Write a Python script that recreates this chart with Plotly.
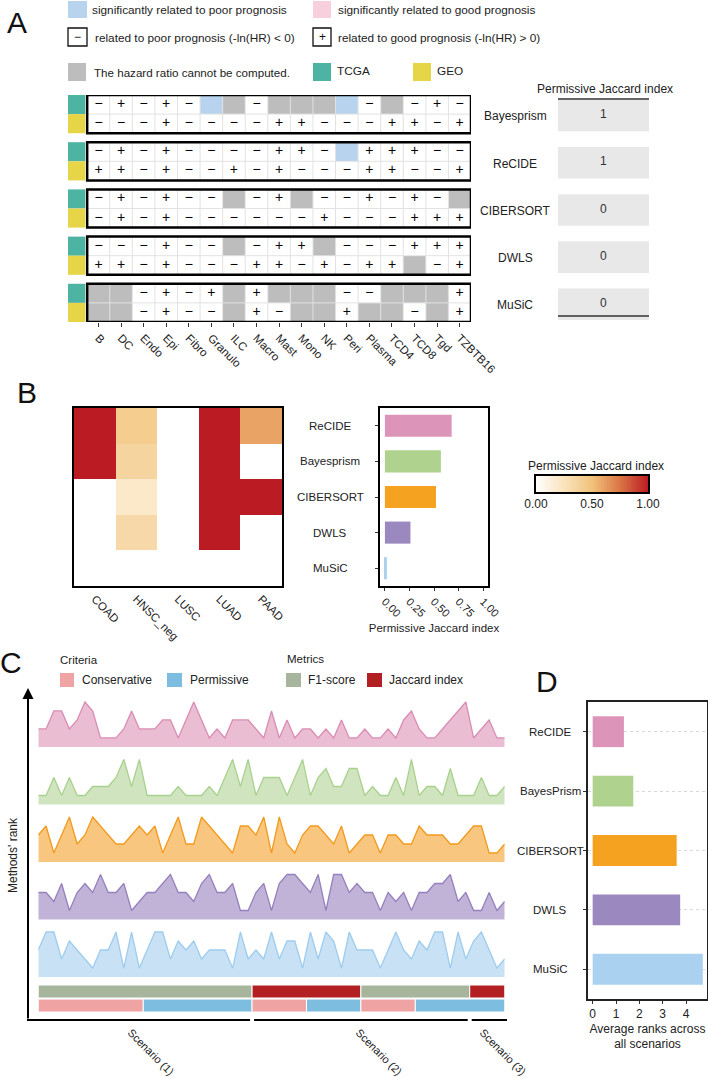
import plotly.graph_objects as go

W, H = 708, 1078
FONT = "Liberation Sans, Arial, Helvetica, sans-serif"

# ---------------- Panel A data ----------------
cell_types = ["B", "DC", "Endo", "Epi", "Fibro", "Granulo", "ILC", "Macro", "Mast",
              "Mono", "NK", "Peri", "Plasma", "TCD4", "TCD8", "Tgd", "TZBTB16"]
methods_A = ["Bayesprism", "ReCIDE", "CIBERSORT", "DWLS", "MuSiC"]
# '-' : -ln(HR) < 0, '+' : -ln(HR) > 0, 'SP' : sig. poor, 'SG' : sig. good, 'NA' : not computable
bayes_tcga = ["-", "+", "-", "+", "-", "SP", "NA", "-", "NA", "NA", "NA", "SP", "-", "NA", "-", "+", "-"]
bayes_geo = ["-", "-", "-", "+", "-", "-", "-", "-", "+", "+", "-", "-", "-", "+", "+", "-", "+"]
recide_tcga = ["-", "+", "-", "+", "-", "-", "-", "-", "+", "+", "-", "SP", "+", "+", "+", "-", "-"]
recide_geo = ["+", "+", "-", "+", "-", "-", "+", "-", "+", "-", "-", "-", "+", "+", "-", "-", "+"]
cibersort_tcga = ["-", "+", "-", "+", "-", "-", "NA", "-", "+", "NA", "-", "-", "+", "-", "+", "-", "NA"]
cibersort_geo = ["-", "+", "-", "+", "-", "-", "-", "-", "-", "-", "+", "-", "-", "-", "+", "+", "+"]
dwls_tcga = ["-", "-", "-", "+", "-", "-", "NA", "-", "+", "+", "NA", "-", "-", "-", "+", "+", "+"]
dwls_geo = ["+", "+", "-", "+", "-", "-", "-", "+", "+", "-", "+", "-", "+", "+", "NA", "-", "+"]
music_tcga = ["NA", "NA", "-", "+", "-", "+", "NA", "+", "NA", "NA", "NA", "-", "-", "NA", "NA", "NA", "+"]
music_geo = ["NA", "NA", "-", "+", "-", "-", "NA", "+", "-", "NA", "NA", "+", "NA", "NA", "-", "NA", "+"]
perm_jaccard_A = [1, 1, 0, 0, 0]

# ---------------- Panel B data ----------------
cancers = ["COAD", "HNSC_neg", "LUSC", "LUAD", "PAAD"]
methods_B = ["ReCIDE", "Bayesprism", "CIBERSORT", "DWLS", "MuSiC"]
jac_recide = [1.0, 0.42, 0.0, 1.0, 0.60]
jac_bayes = [1.0, 0.36, 0.0, 1.0, 0.0]
jac_cibersort = [0.0, 0.20, 0.0, 1.0, 1.0]
jac_dwls = [0.0, 0.33, 0.0, 1.0, 0.0]
jac_music = [0.0, 0.0, 0.0, 0.0, 0.0]
mean_jaccard_B = [0.68, 0.57, 0.52, 0.26, 0.02]
colorbar_ticks = [0.0, 0.5, 1.0]

# ---------------- Panel C data ----------------
rank_recide = [2, 2, 4, 4, 2, 3, 5, 4, 1, 1, 1, 2, 4, 2, 2, 2, 3, 3, 1, 3, 5, 3, 1, 2, 1, 3, 3, 3, 2, 1, 4,
               1, 3, 1, 2, 2, 1, 2, 1, 3, 1, 1, 2, 1, 1, 2, 1, 3, 4, 2, 1, 1, 2, 3, 4, 5, 1, 2, 3, 1, 1]
rank_bayes = [1, 1, 3, 1, 3, 1, 1, 2, 2, 2, 3, 5, 2, 5, 1, 1, 1, 1, 2, 1, 1, 1, 2, 1, 3, 5, 2, 5, 1, 3, 3,
              3, 1, 3, 5, 1, 3, 4, 2, 2, 4, 4, 1, 2, 1, 1, 3, 1, 5, 1, 2, 2, 1, 4, 1, 1, 1, 3, 1, 1, 2]
rank_cibersort = [3, 4, 1, 3, 5, 2, 3, 5, 4, 3, 2, 2, 3, 4, 3, 4, 1, 3, 5, 2, 2, 5, 4, 3, 2, 1, 4, 4, 3, 5, 1,
                  5, 2, 1, 3, 4, 4, 3, 2, 4, 1, 2, 3, 3, 1, 3, 3, 2, 2, 4, 3, 3, 3, 2, 2, 3, 4, 4, 1, 1, 2]
rank_dwls = [3, 3, 2, 4, 1, 3, 4, 3, 5, 3, 3, 4, 1, 2, 3, 3, 4, 5, 3, 3, 2, 4, 5, 3, 3, 4, 1, 1, 3, 4, 1,
             4, 5, 5, 4, 3, 5, 1, 5, 5, 3, 4, 3, 3, 1, 3, 2, 3, 1, 3, 3, 4, 4, 5, 2, 3, 1, 1, 3, 1, 2]
rank_music = [3, 5, 5, 2, 4, 3, 2, 1, 3, 3, 5, 1, 5, 1, 3, 5, 5, 2, 4, 3, 4, 2, 3, 3, 3, 1, 5, 2, 3, 2, 5,
              2, 4, 4, 1, 5, 2, 5, 4, 1, 5, 3, 3, 3, 1, 3, 5, 3, 2, 4, 3, 5, 5, 1, 5, 2, 4, 5, 3, 1, 2]
seg_scenario = ["Scenario (1)", "Scenario (1)", "Scenario (2)", "Scenario (2)", "Scenario (2)", "Scenario (2)", "Scenario (3)"]
seg_metric = ["F1-score", "F1-score", "Jaccard index", "Jaccard index", "F1-score", "F1-score", "Jaccard index"]
seg_criteria = ["Conservative", "Permissive", "Conservative", "Permissive", "Conservative", "Permissive", "Permissive"]
seg_count = [14, 14, 7, 7, 7, 7, 5]

# ---------------- Panel D data ----------------
methods_D = ["ReCIDE", "BayesPrism", "CIBERSORT", "DWLS", "MuSiC"]
avg_rank_D = [1.34, 1.74, 3.60, 3.75, 4.72]

# ---------------- styling ----------------
method_color = {"ReCIDE": "#DD94B9", "Bayesprism": "#AFD38F", "BayesPrism": "#AFD38F",
                "CIBERSORT": "#F4A21F", "DWLS": "#9B88BF", "MuSiC": "#AAD2F0"}
area_fill = ["#EABDD3", "#D0E5BF", "#F8C67E", "#C0B3D7", "#C8E1F4"]
area_line = ["#DA8CB4", "#A9D18E", "#F29A1F", "#9581BD", "#9ECCEE"]
metric_color = {"F1-score": "#A6B59B", "Jaccard index": "#B22024"}
criteria_color = {"Conservative": "#EFA3A3", "Permissive": "#7DBDE0"}
BLUE_A, PINK_A, GRAY_A = "#B8D3EE", "#F7CFDD", "#BDBDBD"
TEAL, YELLOW = "#4DB3A2", "#E6D547"
B_scale = [[0, "#FFFFFF"], [0.25, "#FAE3BD"], [0.5, "#F1C27A"], [0.75, "#DA7445"], [1, "#BB1B22"]]


def X(p):
    return p / W


def Y(p):
    return 1 - p / H


annotations = []
shapes = []


def ann(text, x, y, size=12, xanchor="center", yanchor="middle", angle=0, color="#1a1a1a", **kw):
    d = dict(text=text, x=x, y=y, xref=kw.pop("xref", "paper"), yref=kw.pop("yref", "paper"),
             showarrow=False, xanchor=xanchor, yanchor=yanchor, textangle=angle,
             font=dict(size=size, color=color, family=FONT))
    d.update(kw)
    annotations.append(d)


def prect(x0, y0, x1, y1, fill, line=None, lw=0):
    shapes.append(dict(type="rect", xref="paper", yref="paper", x0=X(x0), x1=X(x1), y0=Y(y1), y1=Y(y0),
                       fillcolor=fill, line=dict(color=line or fill, width=lw)))


def pline(x0, y0, x1, y1, color="black", width=2):
    shapes.append(dict(type="line", xref="paper", yref="paper", x0=X(x0), x1=X(x1), y0=Y(y0), y1=Y(y1),
                       line=dict(color=color, width=width)))


fig = go.Figure()

# ================= Panel A =================
P = 2.47
code_map = {"-": 0, "+": 0, "SP": 1, "SG": 2, "NA": 3}
sym_map = {"-": "\u2212", "+": "+"}
rows_A = [(bayes_tcga, bayes_geo), (recide_tcga, recide_geo), (cibersort_tcga, cibersort_geo),
          (dwls_tcga, dwls_geo), (music_tcga, music_geo)]
A_scale = [[0, "#FFFFFF"], [1 / 6, "#FFFFFF"], [1 / 6, BLUE_A], [0.5, BLUE_A],
           [0.5, PINK_A], [5 / 6, PINK_A], [5 / 6, GRAY_A], [1, GRAY_A]]
for b, (t, g) in enumerate(rows_A):
    fig.add_trace(go.Heatmap(z=[[code_map[v] for v in t], [code_map[v] for v in g]],
                             x=list(range(len(cell_types))), y=[b * P, b * P + 1],
                             zmin=0, zmax=3, colorscale=A_scale, showscale=False,
                             hoverinfo="skip", xaxis="x", yaxis="y"))
gx, gy = [], []
n = len(cell_types)
for b in range(len(rows_A)):
    for k in range(1, n):
        gx += [k - 0.5, k - 0.5, None]
        gy += [b * P - 0.5, b * P + 1.5, None]
    gx += [-0.5, n - 0.5, None]
    gy += [b * P + 0.5, b * P + 0.5, None]
fig.add_trace(go.Scatter(x=gx, y=gy, mode="lines", line=dict(color="#E2E2E2", width=1),
                         hoverinfo="skip", xaxis="x", yaxis="y"))
sx, sy, st = [], [], []
for b, (t, g) in enumerate(rows_A):
    for r, row in enumerate((t, g)):
        for i, v in enumerate(row):
            if v in sym_map:
                sx.append(i)
                sy.append(b * P + r)
                st.append(sym_map[v])
fig.add_trace(go.Scatter(x=sx, y=sy, text=st, mode="text", hoverinfo="skip",
                         textfont=dict(size=14, color="#000000", family=FONT), xaxis="x", yaxis="y"))
for b in range(len(rows_A)):
    shapes.append(dict(type="rect", xref="x", yref="y", x0=-0.5, x1=n - 0.5, y0=b * P - 0.5, y1=b * P + 1.5,
                       line=dict(color="black", width=2.5), fillcolor="rgba(0,0,0,0)"))
    for r, col in enumerate((TEAL, YELLOW)):
        shapes.append(dict(type="rect", xref="x", yref="y", x0=-1.35, x1=-0.58,
                           y0=b * P + r - 0.5, y1=b * P + r + 0.5, fillcolor=col, line=dict(width=0)))
    # right-side table
    shapes.append(dict(type="rect", xref="paper", yref="y", x0=X(558), x1=X(649),
                       y0=b * P - 0.25, y1=b * P + 1.4, fillcolor="#E8E8E8", line=dict(width=0)))
    ann(str(perm_jaccard_A[b]), X(603), b * P + 0.5, size=12, yref="y", color="#333")
    ann(methods_A[b], X(515), b * P + 0.62, size=12, yref="y", color="#222")
ann("Permissive Jaccard index", X(605), Y(89), size=12, color="#222")
pline(558, 99, 649, 99, "#333", 1.5)
pline(558, 316, 649, 316, "#333", 1.5)

# legend A
ann("A", X(17), Y(23), size=30, color="#111")
prect(68, 1, 87, 18, BLUE_A)
ann("significantly related to poor prognosis", X(90), Y(10), size=11.8, xanchor="left", color="#222")
prect(313, 1, 331, 18, PINK_A)
ann("significantly related to good prognosis", X(336), Y(10), size=11.8, xanchor="left", color="#222")
prect(68, 28, 87, 46, "#FFFFFF", "#111", 1.3)
ann("\u2212", X(77.5), Y(37), size=12, color="#111")
ann("related to poor prognosis (-ln(HR) < 0)", X(93), Y(38), size=11.8, xanchor="left", color="#222")
prect(313, 28, 331, 46, "#FFFFFF", "#111", 1.3)
ann("+", X(322), Y(37), size=12, color="#111")
ann("related to good prognosis (-ln(HR) > 0)", X(336), Y(38), size=11.8, xanchor="left", color="#222")
prect(68, 63, 86, 81, GRAY_A)
ann("The hazard ratio cannot be computed.", X(92), Y(72), size=11.6, xanchor="left", color="#222")
prect(313, 63, 331, 81, TEAL)
ann("TCGA", X(335), Y(71), size=11.8, xanchor="left", color="#222")
prect(413, 63, 431, 81, YELLOW)
ann("GEO", X(435), Y(71), size=11.8, xanchor="left", color="#222")

# ================= Panel B =================
fig.add_trace(go.Heatmap(z=[jac_recide, jac_bayes, jac_cibersort, jac_dwls, jac_music],
                         x=cancers, y=methods_B, zmin=0, zmax=1, colorscale=B_scale, showscale=False,
                         hoverinfo="skip", xaxis="x2", yaxis="y2"))
fig.add_trace(go.Bar(x=mean_jaccard_B, y=methods_B, orientation="h", width=0.62,
                     marker=dict(color=[method_color[m] for m in methods_B], line=dict(width=0)),
                     hoverinfo="skip", xaxis="x3", yaxis="y3"))
for m in methods_B:
    ann(m, X(330), m, size=11.5, yref="y3", color="#222")
ann("B", X(27), Y(392), size=30, color="#111")
# colour key drawn as a gradient strip on its own axis
ramp = [i / 199 for i in range(200)]
fig.add_trace(go.Heatmap(z=[ramp], x=ramp, y=[0], zmin=0, zmax=1, colorscale=B_scale, showscale=False,
                         hoverinfo="skip", xaxis="x6", yaxis="y6"))
ann("Permissive Jaccard index", X(596), Y(466), size=12, color="#222")

# ================= Panel C =================
ranks = [rank_recide, rank_bayes, rank_cibersort, rank_dwls, rank_music]
PITCH = 6.39
npts = len(rank_recide)
xs = list(range(npts))
for k, vals in enumerate(ranks):
    off = (len(ranks) - 1 - k) * PITCH
    fig.add_trace(go.Scatter(x=xs, y=[off] * npts, mode="lines", line=dict(width=0, color=area_fill[k]),
                             hoverinfo="skip", xaxis="x4", yaxis="y4"))
    fig.add_trace(go.Scatter(x=xs, y=[off + v for v in vals], mode="lines", fill="tonexty",
                             fillcolor=area_fill[k], line=dict(color=area_line[k], width=1.3),
                             hoverinfo="skip", xaxis="x4", yaxis="y4"))

point_metric, point_criteria, point_scenario = [], [], []
for s, m, c, cnt in zip(seg_scenario, seg_metric, seg_criteria, seg_count):
    point_metric += [m] * cnt
    point_criteria += [c] * cnt
    point_scenario += [s] * cnt


def runs(labels):
    out = []
    start = 0
    for i in range(1, len(labels) + 1):
        if i == len(labels) or labels[i] != labels[start]:
            out.append((labels[start], start, i - 1))
            start = i
    return out


for row_y, labels, cmap in ((-1.61, point_metric, metric_color), (-3.17, point_criteria, criteria_color)):
    rr = runs(labels)
    bases, lens, cols = [], [], []
    for lab, s, e in rr:
        x0 = max(0, s - 0.5)
        x1 = min(npts - 1, e + 0.5)
        bases.append(x0)
        lens.append(x1 - x0)
        cols.append(cmap[lab])
    fig.add_trace(go.Bar(x=lens, base=bases, y=[row_y] * len(lens), orientation="h", width=1.44,
                         marker=dict(color=cols, line=dict(color="white", width=1)),
                         hoverinfo="skip", xaxis="x4", yaxis="y4"))

# axis arrow / scenario lines
x_px = lambda v: 38.3 + v * (504.7 - 38.3) / (npts - 1)
annotations.append(dict(x=X(28), y=Y(688), xref="paper", yref="paper", ax=0, ay=332, axref="pixel",
                        ayref="pixel", text="", showarrow=True, arrowhead=2, arrowsize=1.1,
                        arrowwidth=2, arrowcolor="black"))
scen_runs = runs(point_scenario)
label_px = [151, 379, 503]
for j, (lab, s, e) in enumerate(scen_runs):
    left = 27 if j == 0 else x_px(s - 0.5) + 2
    right = x_px(e + 0.5) - 2 if j < len(scen_runs) - 1 else 507
    pline(left, 1020, right, 1020, "black", 2.2)
    ann(lab, X(label_px[j]), Y(1052), size=11, angle=45, color="#222")
ann("Methods' rank", X(13), Y(855), size=12, angle=-90, color="#222")
ann("C", X(11), Y(662), size=30, color="#111")
ann("Criteria", X(58), Y(660), size=11.5, xanchor="left", color="#222")
prect(60, 673, 74, 687, criteria_color["Conservative"])
ann("Conservative", X(80), Y(680), size=12, xanchor="left", color="#222")
prect(167, 673, 182, 687, criteria_color["Permissive"])
ann("Permissive", X(188), Y(680), size=12, xanchor="left", color="#222")
ann("Metrics", X(285), Y(659), size=11.5, xanchor="left", color="#222")
prect(286, 673, 301, 687, metric_color["F1-score"])
ann("F1-score", X(306), Y(680), size=12, xanchor="left", color="#222")
prect(367, 673, 382, 687, metric_color["Jaccard index"])
ann("Jaccard index", X(387), Y(680), size=12, xanchor="left", color="#222")

# ================= Panel D =================
fig.add_trace(go.Bar(x=avg_rank_D, y=methods_D, orientation="h", width=0.52,
                     marker=dict(color=[method_color[m] for m in methods_D], line=dict(width=0)),
                     hoverinfo="skip", xaxis="x5", yaxis="y5"))
for m in methods_D:
    ann(m, X(550), m, size=11.5, yref="y5", color="#222")
ann("D", X(547), Y(681), size=30, color="#111")

axis_font = dict(size=11.5, family=FONT, color="#222")
fig.update_layout(
    width=W, height=H, margin=dict(l=0, r=0, t=0, b=0, autoexpand=False),
    paper_bgcolor="white", plot_bgcolor="rgba(0,0,0,0)", showlegend=False, barmode="overlay",
    font=dict(family=FONT, size=12, color="#222"),
    xaxis=dict(domain=[X(68), X(471)], range=[-1.35, n - 0.5], anchor="y", tickvals=list(range(n)),
               ticktext=cell_types, tickangle=45, ticks="outside", ticklen=4, tickcolor="#333",
               showgrid=False, zeroline=False, showline=False, tickfont=dict(size=11.5, family=FONT, color="#222")),
    yaxis=dict(domain=[Y(322), Y(95)], range=[4 * P + 1.5, -0.5], visible=False, anchor="x"),
    xaxis2=dict(domain=[X(74), X(282)], anchor="y2", tickangle=45, ticks="", showline=True, mirror=True,
                linecolor="black", linewidth=2, showgrid=False, zeroline=False,
                tickfont=dict(size=11.5, family=FONT, color="#222")),
    yaxis2=dict(domain=[Y(586), Y(408)], anchor="x2", autorange="reversed", showticklabels=False,
                ticks="", showline=True, mirror=True, linecolor="black", linewidth=2, showgrid=False),
    xaxis3=dict(domain=[X(380), X(488)], anchor="y3", range=[-0.05, 1.05],
                tickvals=[0, 0.25, 0.5, 0.75, 1], ticktext=["0.00", "0.25", "0.50", "0.75", "1.00"],
                tickangle=45, ticks="outside", ticklen=3, tickcolor="#333", showline=True, mirror=True,
                linecolor="black", linewidth=2, showgrid=False, zeroline=False,
                tickfont=dict(size=11, family=FONT, color="#222"),
                title=dict(text="Permissive Jaccard index", font=axis_font, standoff=6)),
    yaxis3=dict(domain=[Y(586), Y(408)], anchor="x3", autorange="reversed", showticklabels=False,
                ticks="outside", ticklen=3, tickcolor="#333", showline=True, mirror=True,
                linecolor="black", linewidth=2, showgrid=False),
    xaxis4=dict(domain=[X(38.3), X(504.7)], anchor="y4", range=[0, npts - 1], visible=False),
    yaxis4=dict(domain=[Y(1015), Y(690)], anchor="x4", range=[-4.22, 31.89], visible=False),
    xaxis5=dict(domain=[X(588), X(707)], anchor="y5", range=[-0.2, 4.9], tickvals=[0, 1, 2, 3, 4],
                ticks="outside", ticklen=3, tickcolor="#333", showline=True, mirror=True,
                linecolor="#222", linewidth=1.5, showgrid=False, zeroline=False,
                tickfont=dict(size=12, family=FONT, color="#222"),
                title=dict(text="Average ranks across<br>all scenarios", font=dict(size=12, family=FONT, color="#222"), standoff=4)),
    yaxis5=dict(domain=[Y(999), Y(702)], anchor="x5", autorange="reversed", showticklabels=False,
                ticks="outside", ticklen=3, tickcolor="#333", showline=True, mirror=True,
                linecolor="#222", linewidth=1.5, showgrid=True, gridcolor="#D8D8D8", griddash="dot"),
    xaxis6=dict(domain=[X(536), X(648)], anchor="y6", range=[0, 1], tickvals=colorbar_ticks,
                ticktext=["%.2f" % v for v in colorbar_ticks], ticks="", showline=True, mirror=True,
                linecolor="black", linewidth=1.5, showgrid=False, zeroline=False,
                tickfont=dict(size=12, family=FONT, color="#222")),
    yaxis6=dict(domain=[Y(492), Y(476)], anchor="x6", range=[-0.5, 0.5], showticklabels=False, ticks="",
                showline=True, mirror=True, linecolor="black", linewidth=1.5, showgrid=False, zeroline=False),
    shapes=shapes, annotations=annotations,
)

fig.write_html("out.html")
